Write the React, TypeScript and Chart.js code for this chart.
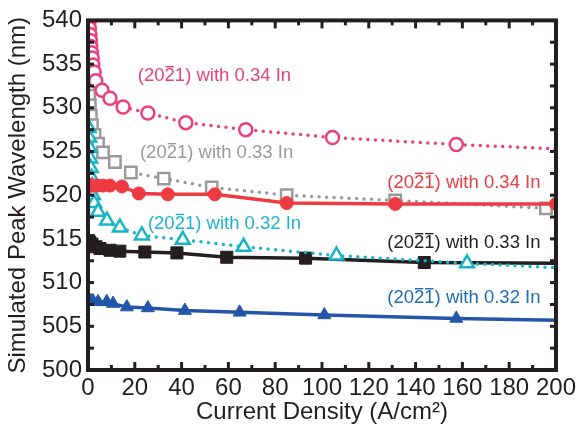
import React, { useEffect, useRef } from 'react';
import { Chart, registerables } from 'chart.js';

Chart.register(...registerables);

const FONT = '"Liberation Sans", Arial, Helvetica, sans-serif';

// ---- data (Current Density A/cm^2 vs Simulated Peak Wavelength nm) ----
const pinkX = [0.4, 0.6, 0.8, 1.0, 1.2, 1.5, 1.8, 2.1, 2.6, 3.3, 6.0, 9.4, 15.0, 25.6, 41.8, 67.4, 104.5, 157.4, 200];
const pinkY = [539.8, 539.1, 538.4, 537.7, 537.0, 536.3, 535.7, 534.9, 534.1, 533.1, 532.0, 531.1, 530.1, 529.4, 528.3, 527.5, 526.6, 525.8, 525.3];

const grayX = [0.3, 0.5, 0.8, 1.2, 1.7, 2.8, 4.3, 6.4, 11.5, 18.3, 32.4, 52.9, 84.9, 131.3, 195.7, 200];
const grayY = [532.4, 531.4, 530.3, 529.1, 528.0, 526.9, 525.9, 524.9, 523.8, 522.6, 521.9, 520.9, 520.0, 519.4, 518.5, 518.3];

const cyanX = [0.3, 0.5, 0.7, 0.9, 1.2, 1.5, 1.8, 2.1, 2.6, 4.3, 8.1, 13.6, 23.0, 40.5, 66.5, 106.2, 162.0, 200];
const cyanY = [527.7, 526.6, 525.4, 524.2, 523.1, 522.0, 521.0, 520.0, 519.1, 518.1, 517.1, 516.3, 515.4, 514.9, 514.1, 513.1, 512.2, 511.7];

const redX = [0.3, 0.8, 1.5, 2.5, 4.0, 6.4, 9.4, 14.5, 21.7, 34.1, 54.2, 84.9, 131.3, 200];
const redY = [521.2, 521.2, 521.1, 521.1, 521.1, 521.1, 521.1, 521.0, 520.2, 520.1, 520.1, 519.1, 519.0, 519.0];

const blackX = [0.3, 0.8, 1.7, 3.4, 5.1, 9.4, 13.6, 24.3, 38.0, 59.3, 93.0, 143.7, 200];
const blackY = [514.8, 514.6, 514.4, 514.1, 513.9, 513.7, 513.6, 513.5, 513.4, 512.9, 512.8, 512.3, 512.2];

const blueX = [0.5, 1.3, 2.1, 4.3, 8.0, 10.7, 16.6, 25.6, 41.4, 64.8, 101.0, 157.4, 200];
const blueY = [507.9, 507.9, 507.9, 507.8, 507.8, 507.6, 507.2, 507.1, 506.8, 506.6, 506.3, 505.9, 505.7];

// ---- annotation labels ----
const labelTexts = [
  '(2021) with 0.34 In',
  '(2021) with 0.33 In',
  '(2021) with 0.34 In',
  '(2021) with 0.32 In',
  '(2021) with 0.33 In',
  '(2021) with 0.32 In',
];
const labelOverlines = [[3], [3], [3, 4], [3], [3, 4], [3, 4]];
const labelX = [21.3, 22.2, 127.9, 25.6, 127.9, 127.9];
const labelY = [533.6, 524.8, 521.4, 516.7, 514.5, 508.2];
const labelColors = ['#E8417E', '#9A9A9A', '#EE3B41', '#1AB5D3', '#231F20', '#1F6CB5'];

const X_MIN = 0, X_MAX = 200, X_STEP = 20;
const Y_MIN = 500, Y_MAX = 540, Y_STEP = 5;

function pts(xs: number[], ys: number[]) {
  return xs.map((x, i) => ({ x, y: ys[i] }));
}
function radii(n: number, r: number, hideLast: boolean) {
  return Array.from({ length: n }, (_, i) => (hideLast && i === n - 1 ? 0 : r));
}

const framePlugin = {
  id: 'framePlugin',
  afterDatasetsDraw(chart: any) {
    const { ctx, chartArea: a, scales } = chart;
    const xs = scales.x, ys = scales.y;
    ctx.save();
    ctx.strokeStyle = '#231F20';
    ctx.lineCap = 'butt';
    ctx.lineWidth = 3;
    const seg = (x1: number, y1: number, x2: number, y2: number) => {
      ctx.beginPath(); ctx.moveTo(x1, y1); ctx.lineTo(x2, y2); ctx.stroke();
    };
    for (let v = X_MIN + X_STEP / 2; v < X_MAX; v += X_STEP / 2) {
      const px = xs.getPixelForValue(v);
      const len = Math.abs(v % X_STEP) < 1e-6 ? 8 : 5;
      seg(px, a.bottom, px, a.bottom - len);
      seg(px, a.top, px, a.top + len);
    }
    for (let v = Y_MIN + Y_STEP / 2; v < Y_MAX; v += Y_STEP / 2) {
      const py = ys.getPixelForValue(v);
      const len = 6;
      seg(a.left, py, a.left + len, py);
      seg(a.right, py, a.right - len, py);
    }
    ctx.lineWidth = 4;
    ctx.strokeRect(a.left, a.top, a.right - a.left, a.bottom - a.top);

    // annotation labels
    const fs = 18.5;
    ctx.font = `${fs}px ${FONT}`;
    ctx.textAlign = 'left';
    ctx.textBaseline = 'middle';
    labelTexts.forEach((t, i) => {
      const x = xs.getPixelForValue(labelX[i]);
      const y = ys.getPixelForValue(labelY[i]);
      ctx.fillStyle = labelColors[i];
      ctx.strokeStyle = labelColors[i];
      ctx.fillText(t, x, y);
      ctx.lineWidth = 1.4;
      labelOverlines[i].forEach((ci) => {
        const x0 = x + ctx.measureText(t.slice(0, ci)).width;
        const w = ctx.measureText(t[ci]).width;
        const oy = y - fs * 0.52;
        seg(x0 + 1, oy, x0 + w - 1, oy);
      });
    });
    ctx.restore();
  },
};

export default function App() {
  const ref = useRef<HTMLCanvasElement | null>(null);
  useEffect(() => {
    if (!ref.current) return;
    const dotted = { borderDash: [0, 7.5], borderCapStyle: 'round' as const, borderWidth: 3.5 };
    const chart = new Chart(ref.current, {
      type: 'line',
      data: {
        datasets: [
          {
            label: 'red', data: pts(redX, redY), borderColor: '#EE3B41', backgroundColor: '#EE3B41',
            borderWidth: 3.5, pointStyle: 'circle', pointRadius: radii(redX.length, 6.5, false),
            pointBackgroundColor: '#EE3B41', pointBorderColor: '#EE3B41', pointBorderWidth: 1,
          },
          {
            label: 'cyan', data: pts(cyanX, cyanY), borderColor: '#19B5C6', ...dotted,
            pointStyle: 'triangle', pointRadius: radii(cyanX.length, 8, true),
            pointBackgroundColor: '#FFFFFF', pointBorderColor: '#19B5C6', pointBorderWidth: 2.5,
          },
          {
            label: 'pink', data: pts(pinkX, pinkY), borderColor: '#E8417E', ...dotted,
            pointStyle: 'circle', pointRadius: radii(pinkX.length, 6.5, true),
            pointBackgroundColor: '#FFFFFF', pointBorderColor: '#E8417E', pointBorderWidth: 2.5,
          },
          {
            label: 'gray', data: pts(grayX, grayY), borderColor: '#9A9A9A', ...dotted,
            pointStyle: 'rect', pointRadius: radii(grayX.length, 8, true),
            pointBackgroundColor: '#FFFFFF', pointBorderColor: '#9A9A9A', pointBorderWidth: 2.5,
          },
          {
            label: 'black', data: pts(blackX, blackY), borderColor: '#231F20',
            borderWidth: 3.5, pointStyle: 'rect', pointRadius: radii(blackX.length, 8.5, true),
            pointBackgroundColor: '#231F20', pointBorderColor: '#231F20', pointBorderWidth: 1,
          },
          {
            label: 'blue', data: pts(blueX, blueY), borderColor: '#2356A8',
            borderWidth: 3.5, pointStyle: 'triangle', pointRadius: radii(blueX.length, 7.5, true),
            pointBackgroundColor: '#2356A8', pointBorderColor: '#2356A8', pointBorderWidth: 1,
          },
        ],
      },
      options: {
        responsive: false,
        animation: false,
        layout: { padding: { top: 20, right: 23, left: 0, bottom: 0 } },
        plugins: { legend: { display: false }, tooltip: { enabled: false } },
        scales: {
          x: {
            type: 'linear', min: X_MIN, max: X_MAX,
            grid: { display: false, drawTicks: false },
            border: { display: false },
            ticks: {
              stepSize: X_STEP, autoSkip: false, maxRotation: 0, padding: 4,
              color: '#231F20', font: { family: FONT, size: 24 },
            },
            title: {
              display: true, text: 'Current Density (A/cm²)', color: '#231F20',
              font: { family: FONT, size: 24 }, padding: { top: 0, bottom: 3 },
            },
            afterFit: (s: any) => { s.height = 60; },
          },
          y: {
            type: 'linear', min: Y_MIN, max: Y_MAX,
            grid: { display: false, drawTicks: false },
            border: { display: false },
            ticks: {
              stepSize: Y_STEP, autoSkip: false, padding: 6,
              color: '#231F20', font: { family: FONT, size: 24 },
            },
            title: {
              display: true, text: 'Simulated Peak Wavelength (nm)', color: '#231F20',
              font: { family: FONT, size: 24 }, padding: { top: 4, bottom: 0 },
            },
            afterFit: (s: any) => { s.width = 88; },
          },
        },
      },
      plugins: [framePlugin],
    } as any);
    return () => chart.destroy();
  }, []);
  return (
    <div style={{ position: 'fixed', left: 0, top: 0, width: 580, height: 430, background: '#fff' }}>
      <canvas ref={ref} width={580} height={430} style={{ width: 580, height: 430, display: 'block' }} />
    </div>
  );
}
